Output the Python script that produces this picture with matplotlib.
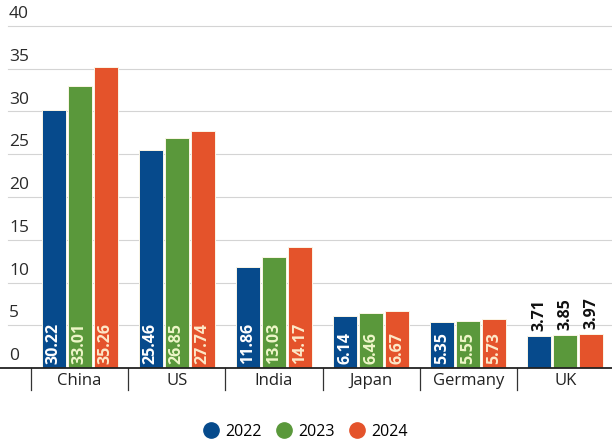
import numpy as np
import matplotlib.pyplot as plt
from matplotlib.lines import Line2D

countries = ["China", "US", "India", "Japan", "Germany", "UK"]
years = ["2022", "2023", "2024"]
v2022 = [30.22, 25.46, 11.86, 6.14, 5.35, 3.71]
v2023 = [33.01, 26.85, 13.03, 6.46, 5.55, 3.85]
v2024 = [35.26, 27.74, 14.17, 6.67, 5.73, 3.97]
yticks = [0, 5, 10, 15, 20, 25, 30, 35, 40]

colors = ["#064a8c", "#5a983b", "#e4532b"]
text_colors = ["#ffffff", "#eef6c8", "#fde9c9"]
plt.rcParams['font.family'] = ['Open Sans', 'DejaVu Sans']

fig = plt.figure(figsize=(6.12, 4.45), dpi=100)
ax = fig.add_axes([0, 1 - 368 / 445, 1, 368 / 445])
ax.set_xlim(-0.82, 5.48)
ax.set_ylim(0, 368 / 8.55)
ax.axis("off")

# gridlines + y labels sitting above them
for t in yticks:
    if t > 0:
        ax.axhline(t, xmin=8 / 612, xmax=1, color="#d4d4d4", lw=0.8, zorder=0)
    ax.text(9 / 612, t + 0.45, str(t), transform=ax.get_yaxis_transform(),
            ha="left", va="bottom", fontsize=12.5, color="#2a2a2a")

x = np.arange(len(countries))
w = 0.247
step = 0.268
series = [v2022, v2023, v2024]
for i, vals in enumerate(series):
    xs = x + (i - 1) * step
    ax.bar(xs, vals, width=w, color=colors[i], edgecolor="#fbf6e6", lw=0.7, zorder=2)
    for xi, v, c in zip(xs, vals, countries):
        if c == "UK":
            ax.text(xi, v + 0.6, f"{v:.2f}", rotation=90, ha="center", va="bottom",
                    fontsize=11.5, fontweight="bold", color="#111111", zorder=3)
        else:
            ax.text(xi, 0.5, f"{v:.2f}", rotation=90, ha="center", va="bottom",
                    fontsize=11.5, fontweight="bold", color=text_colors[i], zorder=3)

# baseline and category separators
ax.plot([-0.82, 5.48], [0, 0], color="#222222", lw=1.3, clip_on=False, zorder=4)
for s in np.arange(len(countries)) - 0.5:
    ax.plot([s, s], [0, -22 / 8.55], color="#333333", lw=0.9, clip_on=False)
for xi, c in zip(x, countries):
    ax.text(xi, -13 / 8.55, c, ha="center", va="center", fontsize=12, color="#222222")

handles = [Line2D([], [], marker="o", ls="", markersize=11, color=col) for col in colors]
fig.legend(handles, years, loc="center", bbox_to_anchor=(0.50, 1 - 432 / 445), ncol=3,
           frameon=False, fontsize=11.5, handlelength=0.8, handletextpad=0.5,
           columnspacing=1.0)

fig.savefig("out.png", dpi=100)
